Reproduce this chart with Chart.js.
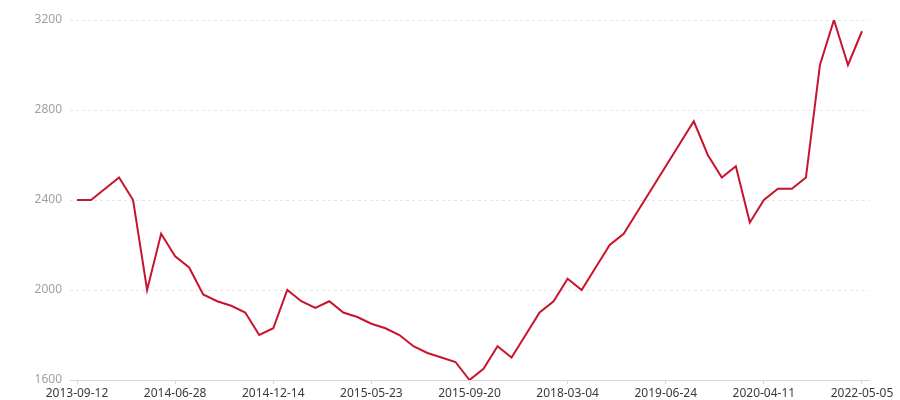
<!DOCTYPE html>
<html>
<head>
<meta charset="utf-8">
<script src="https://cdn.jsdelivr.net/npm/chart.js@4/dist/chart.umd.min.js"></script>
<style>
html,body{margin:0;padding:0;background:#fff;}
#wrap{width:900px;height:400px;}
</style>
</head>
<body>
<div id="wrap"><canvas id="c" width="900" height="400"></canvas></div>
<script>
// Tick labels shown on the x axis (one every 7 points)
const tickLabels = ["2013-09-12","2014-06-28","2014-12-14","2015-05-23","2015-09-20","2018-03-04","2019-06-24","2020-04-11","2022-05-05"];
const tickEvery = 7;
// Series values (57 points)
const values = [
  2400,2400,2450,2500,2400,2000,2250,2150,2100,1980,
  1950,1930,1900,1800,1830,2000,1950,1920,1950,1900,
  1880,1850,1830,1800,1750,1720,1700,1680,1600,1650,
  1750,1700,1800,1900,1950,2050,2000,2100,2200,2250,
  2350,2450,2550,2650,2750,2600,2500,2550,2300,2400,
  2450,2450,2500,3000,3200,3000,3150
];
const yTicks = [1600,2000,2400,2800,3200];

const points = values.map((v,i)=>({x:i,y:v}));
const font = {family:"'Noto Sans', 'DejaVu Sans', sans-serif", size:12};

new Chart(document.getElementById('c'), {
  type:'line',
  data:{datasets:[{
    data:points,
    borderColor:'#c8142c',
    borderWidth:2,
    pointRadius:0,
    tension:0,
    fill:false
  }]},
  options:{
    responsive:false,
    animation:false,
    layout:{padding:{left:0,right:31,top:20,bottom:0}},
    plugins:{legend:{display:false},tooltip:{enabled:false}},
    scales:{
      x:{
        type:'linear',
        min:-0.5,
        max:values.length-0.5,
        afterBuildTicks(scale){
          scale.ticks = tickLabels.map((_,k)=>({value:k*tickEvery}));
        },
        afterFit(scale){ scale.height = 20; },
        ticks:{
          callback:(v)=>tickLabels[Math.round(v/tickEvery)],
          color:'#3a3a3a',
          font:font,
          padding:2,
          maxRotation:0,
          autoSkip:false
        },
        grid:{drawOnChartArea:false,drawTicks:true,tickLength:4,color:'#d6d6d6'},
        border:{display:true,color:'#d6d6d6',width:1}
      },
      y:{
        min:1600,max:3200,
        afterBuildTicks(scale){ scale.ticks = yTicks.map(v=>({value:v})); },
        afterFit(scale){ scale.width = 70; },
        ticks:{color:'#a0a0a0',font:font,padding:8,callback:(v)=>String(v)},
        grid:{color:'#e6e6e6',drawTicks:false,lineWidth:1},
        border:{display:false,dash:[3,3]}
      }
    }
  }
});
</script>
</body>
</html>
